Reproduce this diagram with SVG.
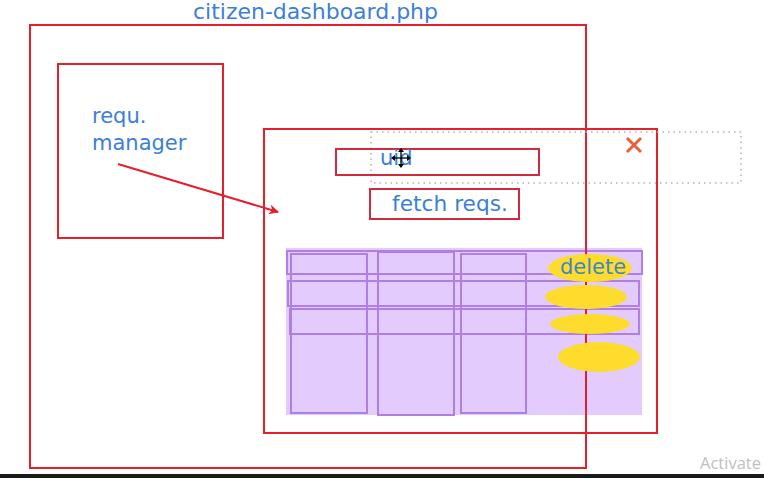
<svg xmlns="http://www.w3.org/2000/svg" width="764" height="478" viewBox="0 0 764 478">
<style>
.red{fill:none;stroke:#e5202c;stroke-width:2}
.dred{fill:none;stroke:#cf2a3e;stroke-width:2}
.pur{fill:none;stroke:#b17ee2;stroke-width:2}
.yel{fill:#fddc2e}
.t{font-family:"DejaVu Sans",Verdana,sans-serif;font-size:21px;fill:#3b7fd6}
</style>
<defs>
<marker id="ah" viewBox="0 0 10 10" refX="9" refY="5" markerWidth="12" markerHeight="10" orient="auto" markerUnits="userSpaceOnUse">
<path d="M0,0 L10,5 L0,10 L3,5 Z" fill="#e5202c"/>
</marker>
</defs>
<rect width="764" height="478" fill="#ffffff"/>
<g id="table">
<rect x="286" y="248" width="356" height="167" fill="#e4cbfd"/>
<rect class="pur" x="287" y="251" width="355" height="23"/>
<rect class="pur" x="288" y="281" width="351" height="25"/>
<rect class="pur" x="290" y="309" width="349" height="25"/>
<rect class="pur" x="291" y="254" width="76" height="159"/>
<rect class="pur" x="378" y="252" width="76" height="163"/>
<rect class="pur" x="461" y="254" width="65" height="159"/>
</g>
<g id="citizen-dashboard">
<rect class="red" x="30" y="25" width="556" height="443"/>
<text class="t" x="193" y="19" textLength="245" lengthAdjust="spacingAndGlyphs">citizen-dashboard.php</text>
</g>
<g id="requ-manager">
<rect class="red" x="58" y="64" width="165" height="174"/>
<text class="t" x="92" y="123">requ.</text>
<text class="t" x="92" y="150">manager</text>
</g>
<g id="panel">
<rect class="red" x="264" y="129" width="393" height="304"/>
<rect x="371" y="132" width="370" height="51" fill="none" stroke="#b4b4b4" stroke-width="1.5" stroke-dasharray="1.5,4"/>
<path d="M627,138 L641,152 M641,138 L627,152" stroke="#e8603c" stroke-width="3"/>
</g>
<g id="uid">
<rect class="dred" x="336" y="149" width="203" height="26"/>
<text class="t" x="380" y="165">uid</text>
<g stroke="#000" stroke-width="1.3" fill="#000">
<line x1="393" y1="158" x2="409" y2="158"/>
<line x1="401" y1="150" x2="401" y2="166"/>
<path d="M401,148 L398,152 L404,152 Z M401,168 L398,164 L404,164 Z M391,158 L395,155 L395,161 Z M411,158 L407,155 L407,161 Z" stroke="none"/>
</g>
</g>
<g id="fetch-reqs">
<rect class="dred" x="370" y="189" width="149" height="30"/>
<text class="t" x="392" y="211" textLength="116" lengthAdjust="spacingAndGlyphs">fetch reqs.</text>
</g>
<g id="delete">
<ellipse class="yel" cx="590" cy="268" rx="42" ry="14"/>
<ellipse class="yel" cx="586" cy="297" rx="41" ry="12"/>
<ellipse class="yel" cx="590" cy="324" rx="40" ry="10"/>
<ellipse class="yel" cx="599" cy="357" rx="41" ry="15"/>
<text class="t" x="560" y="274" style="fill:#3f86c4">delete</text>
</g>
<g id="connectors">
<line x1="118" y1="164" x2="278" y2="212" stroke="#e5202c" stroke-width="2" marker-end="url(#ah)"/>
</g>
<text x="700" y="469" font-family="Open Sans,sans-serif" font-size="17" fill="#c0c0c0" textLength="61" lengthAdjust="spacingAndGlyphs">Activate</text>
<rect x="0" y="474" width="764" height="4" fill="#1a1a1a"/>
</svg>
